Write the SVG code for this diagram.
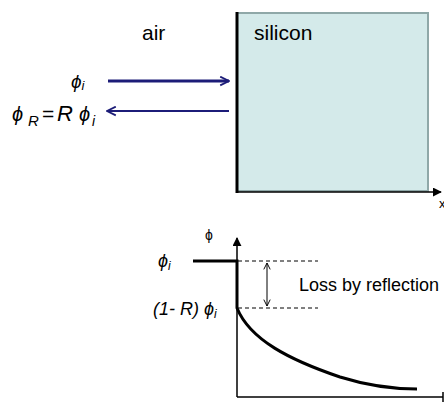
<svg xmlns="http://www.w3.org/2000/svg" width="444" height="408" viewBox="0 0 444 408">
<style>
.t{font-family:"Liberation Sans",Arial,sans-serif;fill:#000}
.m{font-family:"Liberation Sans","DejaVu Sans",Arial,sans-serif;font-style:italic;fill:#000}
.navy{stroke:#1c1c78;fill:none}
.ax{stroke:#000;stroke-width:1.5;fill:none}
.dash{stroke:#000;stroke-width:1;stroke-dasharray:4,3;fill:none}
</style>
<defs>
<marker id="chev" viewBox="0 0 10 10" refX="9" refY="5" markerWidth="11" markerHeight="11" markerUnits="userSpaceOnUse" orient="auto-start-reverse">
<path d="M1,1 L9,5 L1,9" fill="none" stroke="context-stroke" stroke-width="1.6"/>
</marker>
<marker id="chevS" viewBox="0 0 10 10" refX="9" refY="5" markerWidth="8" markerHeight="8" markerUnits="userSpaceOnUse" orient="auto-start-reverse">
<path d="M1,1 L9,5 L1,9" fill="none" stroke="#000" stroke-width="1.2"/>
</marker>
<marker id="tri" viewBox="0 0 10 10" refX="9" refY="5" markerWidth="9" markerHeight="9" markerUnits="userSpaceOnUse" orient="auto">
<path d="M0,0 L10,5 L0,10 z" fill="#000"/>
</marker>
</defs>
<g id="silicon">
<rect x="237" y="13" width="191" height="178" fill="#d4eaea" stroke="#8fa8a8" stroke-width="2"/>
<line x1="237" y1="12" x2="237" y2="193" stroke="#000" stroke-width="3"/>
<text class="t" x="254" y="40" font-size="21">silicon</text>
</g>
<g id="air">
<text class="t" x="142" y="40" font-size="21">air</text>
</g>
<g id="xaxis-top">
<line class="ax" x1="236" y1="192" x2="441" y2="192" marker-end="url(#tri)"/>
<text class="t" x="439" y="208" font-size="13">x</text>
</g>
<g id="incident">
<text class="m" x="71" y="88" font-size="19">ϕ<tspan font-size="13" dy="2">i</tspan></text>
</g>
<g id="reflected">
<text class="m" y="121"><tspan x="12" font-size="20">ϕ</tspan><tspan x="28" y="126" font-size="15">R</tspan><tspan x="42" y="121" font-size="21" font-style="normal">=</tspan><tspan x="57" font-size="22">R</tspan><tspan x="79" font-size="20">ϕ</tspan><tspan x="92" y="126" font-size="14">i</tspan></text>
</g>
<g id="graph">
<text class="t" x="205" y="240" font-size="14">ϕ</text>
<line class="ax" x1="237" y1="397" x2="237" y2="238" marker-end="url(#tri)"/>
<line class="ax" x1="237" y1="397" x2="443" y2="397"/>
<line x1="443" y1="392" x2="443" y2="402" stroke="#000" stroke-width="1.5"/>
<path d="M193,261 H237 V308 C250,340 290,360 340,377 C372,387 395,389 417,389" fill="none" stroke="#000" stroke-width="3"/>
<line class="dash" x1="238" y1="261" x2="318" y2="261"/>
<line class="dash" x1="238" y1="308" x2="318" y2="308"/>
<text class="m" x="158" y="267" font-size="18">ϕ<tspan font-size="12" dy="3">i</tspan></text>
<text class="m" x="153" y="315" font-size="18">(1- R) ϕ<tspan font-size="12" dy="3">i</tspan></text>
<text class="t" x="299" y="291" font-size="18">Loss by reflection</text>
</g>
<g id="connectors">
<line class="navy" x1="108" y1="81" x2="229" y2="81" stroke-width="3" marker-end="url(#chev)"/>
<line class="navy" x1="229" y1="111" x2="107" y2="111" stroke-width="1.8" marker-end="url(#chev)"/>
<line x1="267" y1="263" x2="267" y2="306" stroke="#000" stroke-width="1" marker-start="url(#chevS)" marker-end="url(#chevS)"/>
</g>
</svg>
